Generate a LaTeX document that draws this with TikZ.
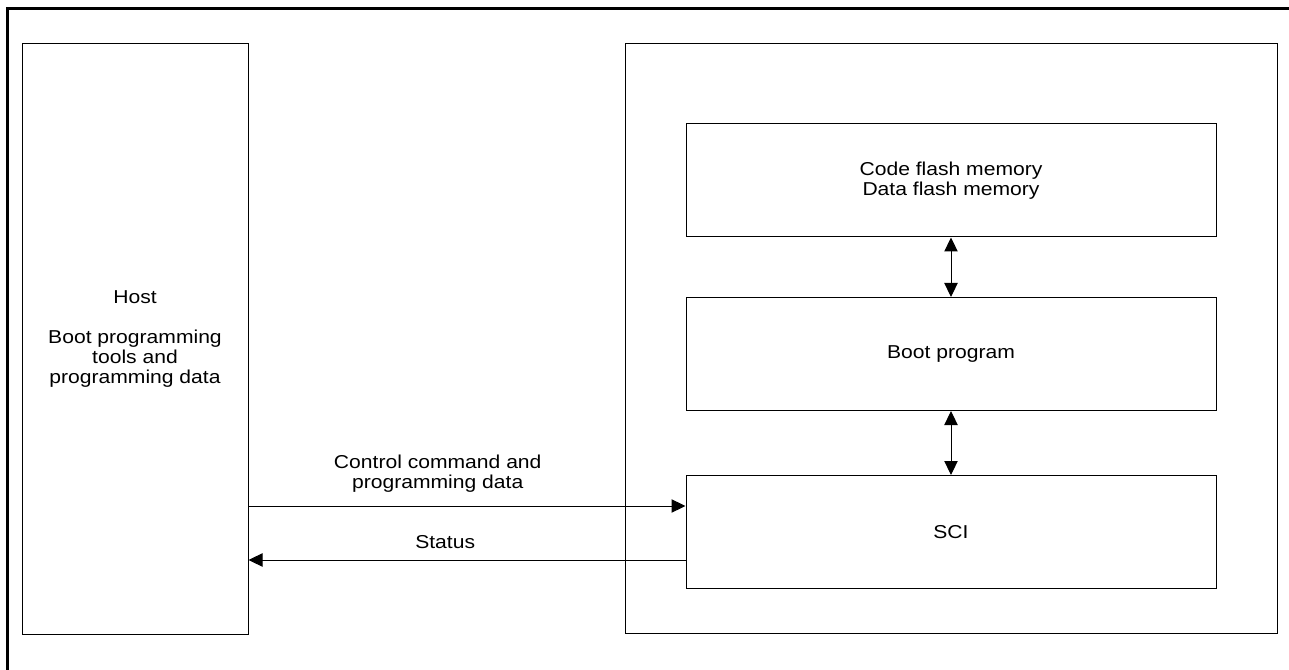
\documentclass[tikz,border=0pt]{standalone}
\usepackage{fontspec}
\setmainfont[FakeStretch=1.13]{Liberation Sans}
\usetikzlibrary{arrows.meta}

\begin{document}
\begin{tikzpicture}[x=0.75pt, y=-0.75pt,
      >={Triangle[length=10.5pt, width=10pt]},
      blk/.style={draw, line width=0.75pt, align=center, inner sep=0pt, font=\fontsize{14}{15}\selectfont},
      arr/.style={->, line width=0.75pt},
      lbl/.style={font=\fontsize{14}{15}\selectfont, align=center, inner sep=0pt}]
    \useasboundingbox (0,0) rectangle (1289,670);
    \draw[line width=2.25pt] (7.5,670) -- (7.5,8.5) -- (1289,8.5);
    % host side
    \node[blk, minimum width=169.5pt, minimum height=442.5pt] (host) at (135,339)
      {Host\\[15pt]Boot programming\\tools and\\programming data};
    % target device
    \node[blk, minimum width=489pt, minimum height=441.75pt] (mcu) at (951,338.5) {};
    \node[blk, minimum width=397.5pt, minimum height=84.75pt] (flash) at (951,180.5) {Code flash memory\\Data flash memory};
    \node[blk, minimum width=397.5pt, minimum height=84.75pt] (boot) at (951,354) {Boot program};
    \node[blk, minimum width=397.5pt, minimum height=84.75pt] (sci) at (951,532) {SCI};
    \draw[arr, <->] (flash) -- (boot);
    \draw[arr, <->] (boot) -- (sci);
    \draw[arr] (host.east |- 0,506) -- node[lbl, above=10pt, pos=0.433] {Control command and\\programming data} (sci.west |- 0,506);
    \draw[arr] (sci.west |- 0,560) -- node[lbl, above=8pt, pos=0.55] {Status} (host.east |- 0,560);
  \end{tikzpicture}
\end{document}
